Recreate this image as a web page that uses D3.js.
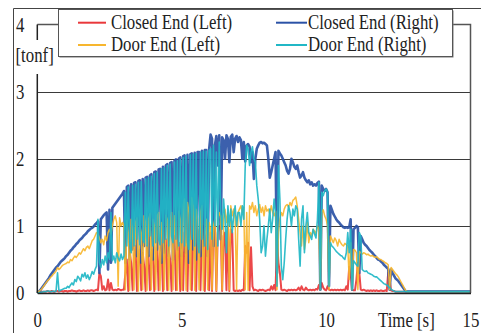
<!DOCTYPE html>
<html>
<head>
<meta charset="utf-8">
<script src="https://cdn.jsdelivr.net/npm/d3@7"></script>
<style>
  html, body { margin: 0; padding: 0; background: #fff; }
  svg { display: block; }
</style>
</head>
<body>
<svg id="chart" width="481" height="333"></svg>
<script>
// Sampling: one value every STEP seconds from 0 s to 13 s, plus a final value at END_TIME.
const STEP = 0.05;
const END_TIME = 15;

// Load on the closed end, left side [tonf]
const closedLeft = [
  0, 0.01, 0.01, 0.02, 0.02, 0.02, 0.02, 0.03, 0.02, 0.02, 0.03, 0.02, 0.02, 0.03, 0.03, 0.02, 0.03, 0.03, 0.02, 0.03,
  0.03, 0.02, 0.03, 0.03, 0.04, 0.03, 0.03, 0.02, 0.03, 0.04, 0.03, 0.03, 0.04, 0.03, 0.03, 0.04, 0.03, 0.04, 0.04, 0.03,
  0.04, 0.05, 0.04, 0.3, 0.25, 0.05, 0.1, 0.04, 0.05, 0.2, 0.04, 0.15, 0.05, 0.04, 0.05, 0.04, 0.06, 0.05, 0.04, 0.05,
  0.05, 0.3, 0.5, 0.03, 0.6, 0.45, 0.04, 0.55, 0.7, 0.03, 0.5, 0.65, 0.04, 0.6, 0.4, 0.03, 0.7, 0.55, 0.04, 0.6,
  0.65, 0.03, 0.5, 0.75, 0.04, 0.6, 0.7, 0.03, 0.55, 0.8, 0.04, 0.65, 0.5, 0.03, 0.7, 0.85, 0.04, 0.6, 0.75, 0.03,
  0.8, 0.04, 0.9, 0.7, 0.03, 1.0, 1.43, 0.04, 0.85, 0.9, 0.03, 0.95, 0.8, 0.04, 0.9, 1.0, 0.03, 0.85, 0.95, 0.04,
  0.9, 0.03, 0.95, 1.0, 0.03, 0.9, 1.0, 0.95, 0.03, 0.85, 0.9, 0.04, 1.0, 0.03, 0.95, 0.9, 0.04, 0.03, 0.04, 0.03,
  0.04, 0.03, 0.05, 0.04, 0.7, 0.6, 0.75, 0.04, 0.68, 0.1, 0.04, 0.05, 0.04, 0.03, 0.05, 0.04, 0.05, 0.04, 0.03, 0.04,
  0.05, 0.04, 0.1, 0.05, 0.12, 0.04, 0.8, 0.45, 0.3, 0.05, 0.04, 0.05, 0.04, 0.03, 0.05, 0.04, 0.05, 0.04, 0.05, 0.04,
  0.05, 0.08, 0.04, 0.1, 0.05, 0.04, 0.08, 0.05, 0.04, 0.05, 0.04, 0.05, 0.04, 0.06, 0.05, 0.12, 0.05, 0.15, 0.08, 0.05,
  0.04, 0.1, 0.05, 0.04, 0.05, 0.04, 0.05, 0.04, 0.05, 0.04, 0.05, 0.04, 0.05, 0.04, 0.1, 0.05, 0.39, 0.3, 0.05, 0.04,
  0.04, 0.2, 0.45, 0.3, 0.05, 0.04, 0.05, 0.04, 0.03, 0.04, 0.03, 0.04, 0.03, 0.04, 0.03, 0.04, 0.03, 0.03, 0.04, 0.03,
  0.03, 0.04, 0.03, 0.3, 0.2, 0.04, 0.03, 0.03, 0.02, 0.02, 0.02, 0.02, 0.02, 0.02, 0.02, 0.02, 0.02, 0.02, 0.02, 0.02,
  0.02, 0.02
];

// Load on the closed end, right side [tonf]
const closedRight = [
  0, 0.02, 0.04, 0.07, 0.1, 0.13, 0.16, 0.19, 0.22, 0.26, 0.29, 0.32, 0.35, 0.38, 0.4, 0.43, 0.46, 0.48, 0.5, 0.52,
  0.55, 0.57, 0.6, 0.63, 0.65, 0.68, 0.7, 0.73, 0.75, 0.78, 0.8, 0.82, 0.85, 0.87, 0.89, 0.92, 0.94, 0.96, 0.97, 0.99,
  1.02, 1.04, 1.07, 0.3, 1.1, 1.13, 1.16, 1.18, 1.2, 0.35, 1.24, 0.45, 1.27, 1.3, 1.33, 1.36, 1.39, 1.42, 1.45, 1.48,
  1.52, 0.45, 1.58, 1.6, 0.5, 1.62, 0.65, 1.64, 1.65, 0.55, 1.67, 1.68, 0.45, 1.7, 0.7, 1.72, 1.73, 0.55, 1.75, 1.77,
  0.5, 1.8, 1.81, 0.65, 1.84, 1.85, 0.45, 1.88, 0.6, 1.9, 1.92, 0.55, 1.94, 1.95, 0.5, 1.97, 1.99, 0.65, 2.0, 2.02,
  0.55, 2.04, 2.05, 0.6, 2.06, 0.45, 2.07, 2.08, 0.65, 2.09, 0.5, 2.1, 2.1, 0.55, 2.12, 0.7, 2.13, 2.13, 0.55, 2.14,
  2.36, 2.3, 0.7, 2.2, 2.34, 1.9, 2.35, 0.8, 2.32, 2.28, 2.0, 2.35, 2.3, 1.95, 2.33, 2.36, 2.1, 2.3, 2.34, 2.25,
  2.32, 2.28, 2.0, 2.25, 1.96, 2.2, 2.22, 2.18, 1.95, 2.1, 1.7, 2.0, 2.15, 2.2, 2.24, 2.25, 2.23, 2.24, 2.22, 2.2,
  2.0, 1.72, 1.8, 1.9, 2.0, 2.1, 0.3, 2.12, 2.08, 2.05, 2.0, 1.95, 1.9, 1.82, 1.78, 1.85, 2.0, 1.95, 1.88, 1.85,
  1.9, 1.8, 1.72, 1.75, 1.8, 1.72, 1.68, 1.65, 1.68, 1.62, 1.65, 1.6, 1.62, 1.6, 1.64, 1.66, 0.05, 1.6, 1.55, 1.52,
  1.55, 1.5, 0.1, 1.3, 1.24, 1.18, 1.14, 1.1, 1.07, 1.05, 1.02, 1.0, 0.98, 0.97, 0.98, 0.97, 0.98, 1.1, 0.05, 0.95,
  0.97, 1.0, 0.98, 0.3, 0.85, 0.8, 0.75, 0.72, 0.7, 0.67, 0.64, 0.62, 0.6, 0.57, 0.55, 0.52, 0.5, 0.49, 0.47, 0.45,
  0.42, 0.4, 0.38, 0.36, 0.05, 0.35, 0.3, 0.26, 0.22, 0.2, 0.18, 0.15, 0.12, 0.09, 0.06, 0.03, 0.02, 0.02, 0.02, 0.02,
  0.02, 0.02
];

// Load on the door end, left side [tonf]
const doorLeft = [
  0, 0.02, 0.04, 0.06, 0.09, 0.12, 0.15, 0.18, 0.2, 0.23, 0.25, 0.28, 0.3, 0.33, 0.38, 0.35, 0.37, 0.4, 0.42, 0.43,
  0.44, 0.46, 0.45, 0.5, 0.48, 0.52, 0.55, 0.53, 0.56, 0.6, 0.58, 0.62, 0.66, 0.63, 0.68, 0.7, 0.66, 0.72, 0.78, 0.8,
  0.85, 0.9, 0.88, 0.82, 0.75, 0.8, 0.72, 0.85, 0.78, 0.9, 0.95, 0.88, 1.0, 1.1, 1.15, 1.05, 0.1, 1.12, 1.0, 1.05,
  1.0, 0.05, 1.08, 0.9, 0.04, 1.1, 0.95, 0.05, 1.05, 1.12, 0.03, 1.0, 0.9, 0.05, 1.15, 1.05, 0.04, 1.1, 1.18, 0.05,
  1.1, 1.0, 0.05, 1.15, 1.2, 0.04, 1.05, 0.9, 0.05, 1.16, 1.1, 0.04, 1.0, 1.2, 0.05, 1.15, 1.05, 0.04, 1.22, 1.1,
  0.05, 1.3, 1.4, 0.04, 1.35, 1.2, 0.05, 1.42, 1.3, 0.04, 1.25, 1.1, 0.05, 1.2, 1.3, 0.04, 1.0, 1.1, 0.05, 1.05,
  0.95, 0.05, 1.0, 1.1, 0.04, 1.05, 1.2, 1.15, 0.05, 1.1, 1.25, 1.05, 1.2, 0.05, 1.3, 1.15, 1.25, 1.1, 0.05, 1.2,
  1.25, 1.3, 1.2, 1.28, 0.05, 1.2, 0.04, 1.3, 1.25, 1.35, 1.2, 1.3, 1.15, 1.25, 1.32, 1.2, 1.28, 1.15, 1.3, 1.22,
  1.25, 1.18, 1.3, 1.2, 1.15, 1.22, 0.05, 0.9, 1.1, 1.2, 1.15, 1.25, 1.3, 1.32, 1.28, 1.35, 1.3, 1.38, 1.4, 1.43,
  1.3, 1.1, 0.9, 0.7, 1.0, 0.65, 0.8, 1.05, 0.75, 0.9, 0.85, 0.95, 0.92, 0.88, 1.0, 0.95, 0.05, 1.2, 1.24, 1.15,
  1.1, 1.0, 0.05, 0.85, 0.8, 0.75, 0.82, 0.78, 0.7, 0.8, 0.75, 0.72, 0.7, 0.74, 0.72, 0.7, 0.2, 0.75, 0.05, 0.65,
  0.64, 0.6, 0.05, 0.62, 0.6, 0.58, 0.6, 0.59, 0.57, 0.58, 0.56, 0.55, 0.56, 0.54, 0.53, 0.54, 0.52, 0.5, 0.5, 0.48,
  0.47, 0.45, 0.44, 0.42, 0.05, 0.38, 0.35, 0.32, 0.29, 0.27, 0.24, 0.2, 0.16, 0.12, 0.08, 0.04, 0.02, 0.02, 0.02, 0.02,
  0.02, 0.02
];

// Load on the door end, right side [tonf]
const doorRight = [
  0, 0, 0.01, 0.01, 0.02, 0.02, 0.02, 0.03, 0.03, 0.02, 0.02, 0.03, 0.02, 0.03, 0.3, 0.03, 0.04, 0.05, 0.06, 0.07,
  0.07, 0.1, 0.08, 0.12, 0.15, 0.12, 0.2, 0.17, 0.25, 0.22, 0.18, 0.28, 0.24, 0.3, 0.22, 0.27, 0.2, 0.25, 0.32, 0.28,
  0.35, 0.4, 1.1, 0.45, 0.38, 0.5, 0.42, 0.55, 0.45, 0.6, 0.5, 1.2, 0.48, 0.55, 0.45, 0.6, 0.52, 0.48, 0.58, 0.5,
  0.55, 1.5, 0.7, 1.58, 0.75, 0.6, 1.6, 0.7, 1.62, 0.8, 1.65, 0.72, 1.66, 0.8, 0.75, 1.7, 0.7, 1.72, 0.85, 1.74,
  0.7, 1.78, 0.75, 1.8, 0.8, 0.72, 1.85, 0.75, 1.87, 0.8, 1.9, 0.7, 1.92, 0.85, 0.75, 1.95, 0.8, 1.97, 0.7, 1.99,
  0.75, 2.02, 0.7, 2.04, 0.75, 0.65, 2.06, 0.8, 2.07, 0.7, 2.08, 0.75, 0.6, 2.1, 0.8, 2.11, 0.7, 2.11, 0.65, 2.12,
  2.15, 0.8, 2.2, 1.0, 2.1, 0.7, 2.25, 1.2, 0.95, 1.4, 1.1, 0.6, 1.3, 1.0, 1.25, 0.9, 1.15, 1.3, 1.0, 1.2,
  1.2, 1.0, 1.3, 1.1, 1.9, 2.2, 2.15, 1.9, 2.1, 2.18, 2.0, 1.95, 1.6, 1.4, 1.1, 0.6, 0.7, 1.0, 0.55, 0.8,
  1.0, 1.25, 0.9, 1.1, 1.4, 1.2, 0.1, 1.9, 1.4, 0.4, 0.2, 0.45, 0.8, 1.1, 1.3, 1.2, 1.0, 1.25, 1.15, 1.3,
  1.25, 0.8, 0.4, 1.1, 1.3, 0.6, 1.0, 1.2, 0.9, 0.85, 0.8, 0.95, 0.88, 0.82, 1.1, 1.65, 0.05, 1.5, 1.45, 1.52,
  1.55, 1.5, 0.1, 0.75, 0.7, 0.68, 0.65, 0.62, 0.6, 0.58, 0.56, 0.55, 0.52, 0.5, 0.6, 0.9, 0.6, 0.95, 0.05, 0.48,
  0.45, 0.42, 0.4, 0.9, 0.85, 0.35, 0.33, 0.32, 0.33, 0.3, 0.29, 0.28, 0.27, 0.25, 0.24, 0.24, 0.22, 0.2, 0.18, 0.16,
  0.14, 0.13, 0.12, 0.1, 0.08, 0.06, 0.04, 0.03, 0.02, 0.02, 0.02, 0.02, 0.02, 0.02, 0.02, 0.02, 0.02, 0.02, 0.02, 0.02,
  0.02, 0.02
];

// Series, legend names and line colours, in drawing order
const seriesNames = ["Closed End (Left)", "Closed End (Right)", "Door End (Left)", "Door End (Right)"];
const seriesColors = ["#e9383b", "#2b52a6", "#f7b62e", "#21b7c6"];
const seriesWidths = [2, 2.6, 1.5, 1.6];
const seriesValues = [closedLeft, closedRight, doorLeft, doorRight];

const xTicks = [0, 5, 10, 15];
const yTicks = [0, 1, 2, 3, 4];
const yUnit = "[tonf]";
const xTitle = "Time [s]";

// Text settings: serif face, squeezed horizontally
const SQ = 0.84;
const FONT_SIZE = 20;
const FONT_FAMILY = "'Liberation Serif', 'Times New Roman', serif";
const TEXT_COLOR = "#222";

const svg = d3.select("#chart");
const x = d3.scaleLinear().domain([0, 15]).range([37.3, 470.5]);
const y = d3.scaleLinear().domain([0, 4]).range([293, 24.6]);
const timeAt = i => (i < closedLeft.length - 1 ? i * STEP : END_TIME);

function styleText(sel) {
  return sel
    .attr("font-family", FONT_FAMILY)
    .attr("font-size", FONT_SIZE)
    .attr("fill", TEXT_COLOR);
}

// Outer frame (only its top and left edges fall inside the image)
svg.append("path")
  .attr("d", "M13.5,333V8.5H481")
  .attr("fill", "none").attr("stroke", "#444").attr("stroke-width", 1);

// Horizontal gridlines
svg.append("g")
  .selectAll("line")
  .data(yTicks.filter(v => v > 0 && v < 4))
  .join("line")
  .attr("x1", x(0)).attr("x2", x(15))
  .attr("y1", d => Math.round(y(d)) + 0.5).attr("y2", d => Math.round(y(d)) + 0.5)
  .attr("stroke", "#3a3a3a").attr("stroke-width", 1);

// Data lines
const line = d3.line()
  .x((d, i) => x(timeAt(i)))
  .y(d => y(d));

svg.append("g")
  .selectAll("path")
  .data(seriesValues)
  .join("path")
  .attr("d", d => line(d))
  .attr("fill", "none")
  .attr("stroke", (d, i) => seriesColors[i])
  .attr("stroke-width", (d, i) => seriesWidths[i])
  .attr("stroke-linejoin", "round")
  .attr("stroke-opacity", 0.92);

// Plot border: top and right
svg.append("path")
  .attr("d", `M${x(0)},${y(4)}H${x(15)}V${y(0)}`)
  .attr("fill", "none").attr("stroke", "#555").attr("stroke-width", 1.5);

// X axis
const xAxis = d3.axisBottom(x).tickValues(xTicks).tickSize(0).tickFormat(d3.format("d"));
const gx = svg.append("g").attr("transform", `translate(0,${y(0)})`).call(xAxis);
gx.attr("font-family", null).attr("font-size", null);
gx.select(".domain").attr("stroke", "#222").attr("stroke-width", 1.5);
gx.selectAll("text")
  .attr("y", 20)
  .attr("transform", `scale(${SQ},1)`)
  .call(styleText);

// Y axis labels (left aligned)
const yAxis = d3.axisLeft(y).tickValues(yTicks).tickSize(0).tickFormat(d3.format("d"));
const gy = svg.append("g").attr("transform", `translate(${x(0)},0)`).call(yAxis);
gy.attr("font-family", null).attr("font-size", null);
gy.select(".domain").remove();
gy.selectAll("text")
  .attr("text-anchor", "start")
  .attr("x", (16 - x(0)) / SQ)
  .attr("transform", `scale(${SQ},1)`)
  .call(styleText);

// Left axis line, interrupted by the unit label
svg.append("path")
  .attr("d", `M${x(0)},${y(4)}V40M${x(0)},74V${y(0)}`)
  .attr("stroke", "#222").attr("stroke-width", 1.5);

svg.append("text")
  .attr("transform", `translate(15.5,61.5) scale(${SQ},1)`)
  .call(styleText)
  .text(yUnit);

svg.append("text")
  .attr("transform", `translate(378,326.5) scale(${SQ},1)`)
  .call(styleText)
  .text(xTitle);

// Legend
const legend = svg.append("g");
legend.append("rect")
  .attr("x", 59.5).attr("y", 10.5).attr("width", 394).attr("height", 47)
  .attr("fill", "#777");
legend.append("rect")
  .attr("x", 58.5).attr("y", 9.5).attr("width", 394).attr("height", 47)
  .attr("fill", "#fff").attr("stroke", "#555").attr("stroke-width", 1);

const legendCols = [{ x1: 78, x2: 106, tx: 111 }, { x1: 276, x2: 307, tx: 308 }];
const legendRows = [{ ly: 22.7, ty: 28.6 }, { ly: 45, ty: 50.6 }];
const items = legend.selectAll("g.item")
  .data(seriesNames)
  .join("g")
  .attr("class", "item");
items.append("line")
  .attr("x1", (d, i) => legendCols[i % 2].x1)
  .attr("x2", (d, i) => legendCols[i % 2].x2)
  .attr("y1", (d, i) => legendRows[Math.floor(i / 2)].ly)
  .attr("y2", (d, i) => legendRows[Math.floor(i / 2)].ly)
  .attr("stroke", (d, i) => seriesColors[i])
  .attr("stroke-width", 2);
items.append("text")
  .attr("transform", (d, i) => `translate(${legendCols[i % 2].tx},${legendRows[Math.floor(i / 2)].ty}) scale(${SQ},1)`)
  .call(styleText)
  .text(d => d);
</script>
</body>
</html>
